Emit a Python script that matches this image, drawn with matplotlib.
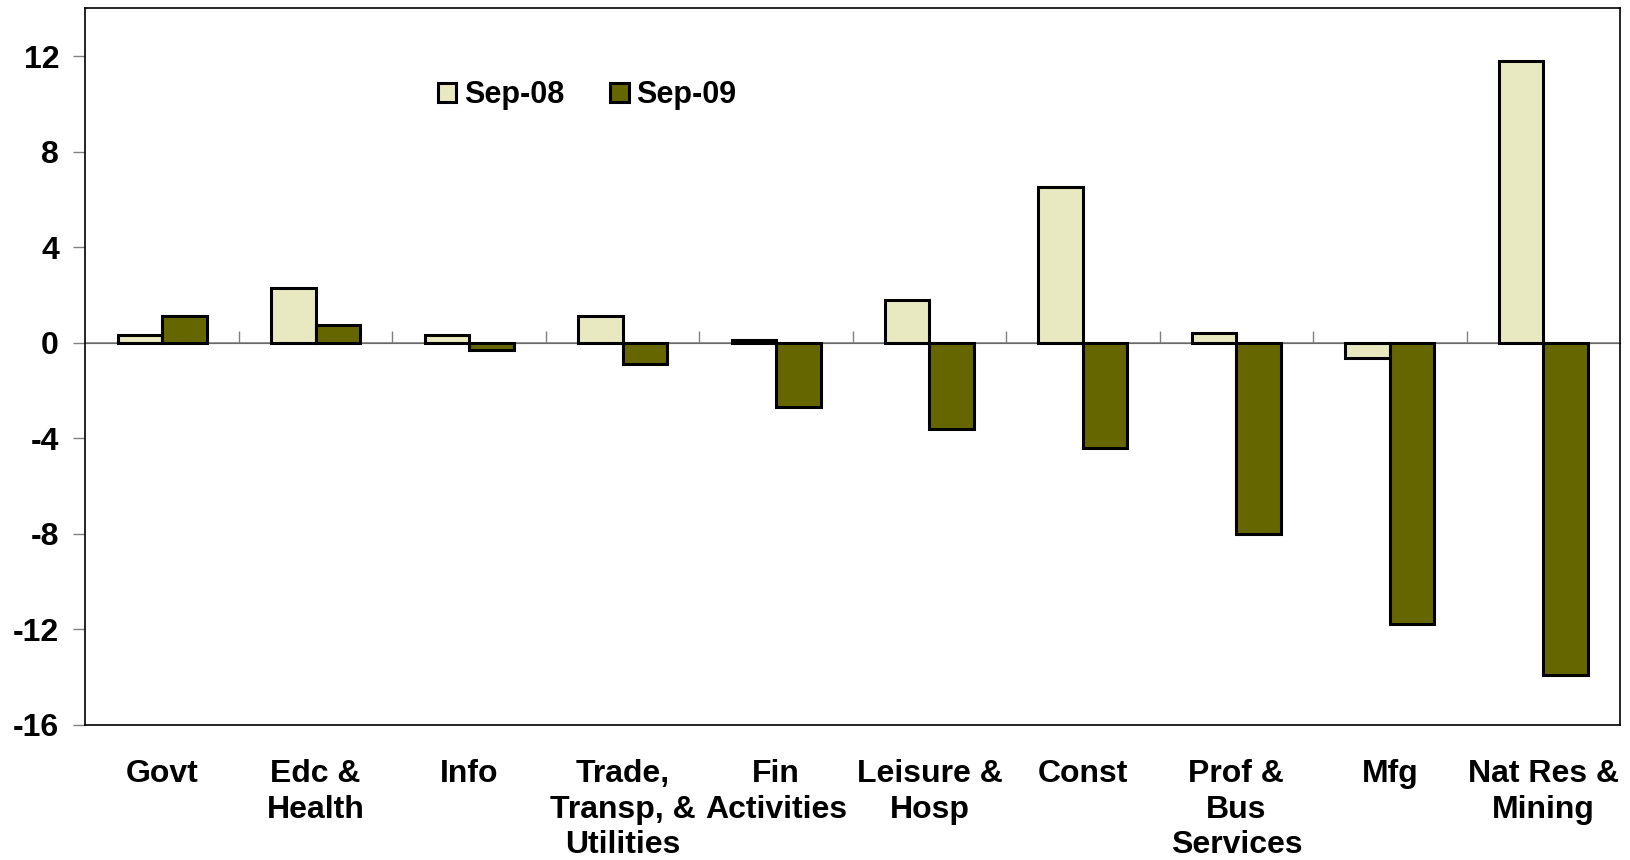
import matplotlib.pyplot as plt
import numpy as np

categories = ['Govt', 'Edc &\nHealth', 'Info', 'Trade,\nTransp, &\nUtilities', 'Fin\nActivities',
              'Leisure &\nHosp', 'Const', 'Prof &\nBus\nServices', 'Mfg', 'Nat Res &\nMining']
sep08 = [0.33, 2.3, 0.33, 1.1, 0.1, 1.8, 6.5, 0.4, -0.63, 11.8]
sep09 = [1.1, 0.72, -0.3, -0.9, -2.7, -3.6, -4.4, -8.0, -11.8, -13.9]
yticks = [-16, -12, -8, -4, 0, 4, 8, 12]

plt.rcParams['font.family'] = ['Liberation Sans', 'DejaVu Sans']
plt.rcParams['font.weight'] = 'bold'

fig = plt.figure(figsize=(16.31, 8.6), dpi=100)
ax = fig.add_axes([0.0524, 0.1573, 0.9409, 0.8330])

x = np.arange(len(categories))
w = 0.29
ax.bar(x - w / 2, sep08, w, color='#E9E9C1', edgecolor='black', linewidth=2.2, label='Sep-08', zorder=3)
ax.bar(x + w / 2, sep09, w, color='#666600', edgecolor='black', linewidth=2.2, label='Sep-09', zorder=3)

ymin, ymax = -16, 14
ax.set_ylim(ymin, ymax)
ax.set_xlim(-0.5, len(categories) - 0.5)
ax.axhline(0, color='#808080', linewidth=1.2, zorder=2)

ax.set_yticks(yticks)
ax.set_yticklabels([str(v) for v in yticks], fontsize=23, fontweight='bold')
ax.tick_params(axis='y', direction='out', length=9, width=1, color='#808080', pad=10)

ax.set_xticks(x)
ax.set_xticklabels(categories, fontsize=23, fontweight='bold', linespacing=1.22, va='top')
ax.tick_params(axis='x', length=0, pad=25)

# category boundary ticks on the zero line
sec = ax.secondary_xaxis((0 - ymin) / (ymax - ymin))
sec.set_xticks(np.arange(0.5, len(categories) - 0.5, 1))
sec.set_xticklabels([])
sec.tick_params(direction='out', length=9, width=1, color='#808080')
sec.spines['bottom'].set_visible(False)

for s in ax.spines.values():
    s.set_linewidth(1.2)
    s.set_color('black')

ax.legend(loc='center', bbox_to_anchor=(0.327, 0.879), ncol=2, frameon=False,
          handlelength=0.6, handleheight=0.6, handletextpad=0.25, columnspacing=1.5,
          prop={'weight': 'bold', 'size': 22})

fig.savefig('out.png', dpi=100)
